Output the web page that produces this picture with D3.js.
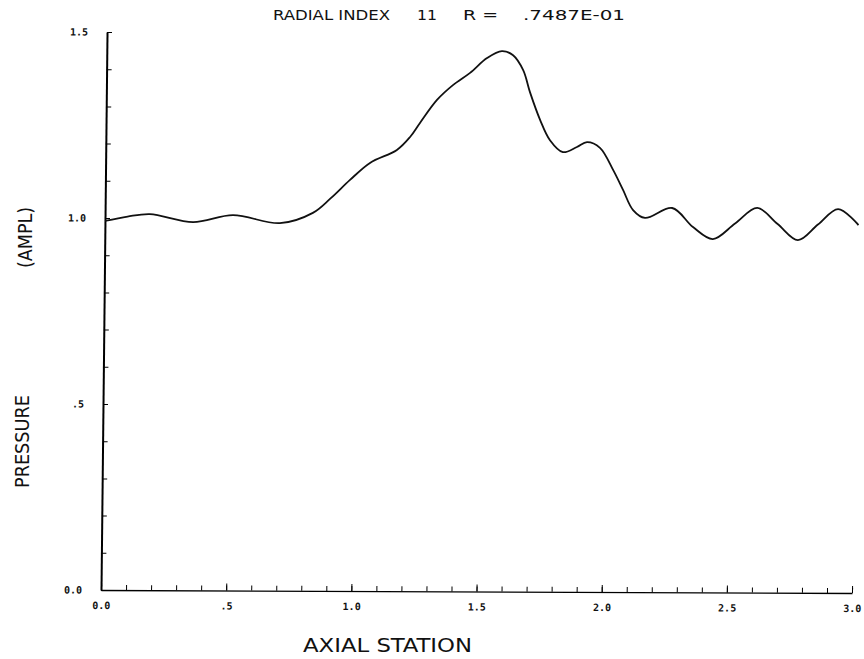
<!DOCTYPE html>
<html>
<head>
<meta charset="utf-8">
<script src="https://cdn.jsdelivr.net/npm/d3@7"></script>
<style>
  body { margin: 0; background: #fff; }
  svg text { fill: #111; }
</style>
</head>
<body>
<div id="chart"></div>
<script>
// pressure amplitude along the axis
var station = [0.0, 0.09, 0.179, 0.352, 0.511, 0.699, 0.83, 0.9, 0.977, 1.056, 1.163,
  1.215, 1.254, 1.321, 1.384, 1.452, 1.519, 1.578, 1.623, 1.664, 1.692, 1.734, 1.774,
  1.826, 1.882, 1.922, 1.974, 2.028, 2.068, 2.109, 2.157, 2.265, 2.349, 2.429, 2.517,
  2.605, 2.687, 2.769, 2.848, 2.928, 3.01];
var pressure = [0.992, 1.004, 1.011, 0.990, 1.009, 0.988, 1.016, 1.055, 1.105, 1.151, 1.186,
  1.221, 1.259, 1.321, 1.361, 1.394, 1.434, 1.453, 1.442, 1.402, 1.343, 1.268, 1.214,
  1.182, 1.196, 1.209, 1.194, 1.134, 1.081, 1.027, 1.006, 1.033, 0.982, 0.950, 0.992,
  1.034, 0.991, 0.948, 0.990, 1.032, 0.989];

var xMinorTicks = d3.range(0, 31).map(i => i / 10);
var xMajorTicks = [0, 0.5, 1.0, 1.5, 2.0, 2.5, 3.0];
var xTickLabels = ["0.0", ".5", "1.0", "1.5", "2.0", "2.5", "3.0"];
var yMinorTicks = d3.range(0, 16).map(i => i / 10);
var yMajorTicks = [0, 0.5, 1.0, 1.5];
var yTickLabels = ["0.0", ".5", "1.0", "1.5"];

var svgWidth = 864;
var svgHeight = 659;
var width = 751;
var height = 558;
var labelFont = "DejaVu Sans Condensed, DejaVu Sans";

var svg = d3.select("#chart")
  .append("svg")
  .attr("width", svgWidth)
  .attr("height", svgHeight);

// the scanned plot is slightly skewed, so the plot group is too
var plot = svg.append("g")
  .attr("transform", "matrix(1, 0.004, -0.0108, 1, 101, 590)");

var x = d3.scaleLinear().domain([0, 3]).range([0, width]);
var y = d3.scaleLinear().domain([0, 1.5]).range([0, -height]);

// x axis: minor ticks, then major ticks with labels
plot.append("g")
  .call(d3.axisBottom(x).tickValues(xMinorTicks).tickSizeInner(-5).tickSizeOuter(0).tickFormat(""))
  .call(g => g.select(".domain").attr("stroke-width", 1.3));

plot.append("g")
  .call(d3.axisBottom(x).tickValues(xMajorTicks).tickSizeInner(-7).tickSizeOuter(0)
    .tickPadding(12).tickFormat((d, i) => xTickLabels[i]))
  .call(g => g.select(".domain").remove())
  .call(g => g.selectAll("text")
    .attr("font-family", "DejaVu Sans Mono")
    .attr("font-weight", "bold")
    .attr("font-size", 10));

// y axis
plot.append("g")
  .call(d3.axisLeft(y).tickValues(yMinorTicks).tickSizeInner(-5).tickSizeOuter(0)
    .tickPadding(19).tickFormat(d => {
      var i = yMajorTicks.indexOf(d);
      return i < 0 ? "" : yTickLabels[i];
    }))
  .call(g => g.select(".domain").attr("stroke-width", 2))
  .call(g => g.selectAll("text")
    .attr("font-family", "DejaVu Sans Mono")
    .attr("font-weight", "bold")
    .attr("font-size", 10));

// the curve
var line = d3.line()
  .x((d, i) => x(station[i]))
  .y(d => y(d))
  .curve(d3.curveCatmullRom);

plot.append("path")
  .datum(pressure)
  .attr("fill", "none")
  .attr("stroke", "#111")
  .attr("stroke-width", 1.8)
  .attr("d", line);

// titles
var title = [
  {t: "RADIAL INDEX", x: 273, w: 117},
  {t: "11", x: 417, w: 20},
  {t: "R =", x: 463, w: 35},
  {t: ".7487E-01", x: 523, w: 102}
];
svg.selectAll(".title")
  .data(title)
  .enter()
  .append("text")
  .attr("class", "title")
  .attr("x", d => d.x)
  .attr("y", 20)
  .attr("font-family", labelFont)
  .attr("font-size", 14)
  .attr("textLength", d => d.w)
  .attr("lengthAdjust", "spacingAndGlyphs")
  .text(d => d.t);

svg.append("text")
  .attr("x", 303)
  .attr("y", 652)
  .attr("font-family", labelFont)
  .attr("font-size", 20)
  .attr("textLength", 169)
  .attr("lengthAdjust", "spacingAndGlyphs")
  .text("AXIAL STATION");

svg.append("text")
  .attr("transform", "translate(29, 488) rotate(-90)")
  .attr("font-family", labelFont)
  .attr("font-size", 19)
  .attr("textLength", 93)
  .attr("lengthAdjust", "spacingAndGlyphs")
  .text("PRESSURE");

svg.append("text")
  .attr("transform", "translate(32, 268) rotate(-90)")
  .attr("font-family", labelFont)
  .attr("font-size", 19)
  .attr("textLength", 61)
  .attr("lengthAdjust", "spacingAndGlyphs")
  .text("(AMPL)");
</script>
</body>
</html>
